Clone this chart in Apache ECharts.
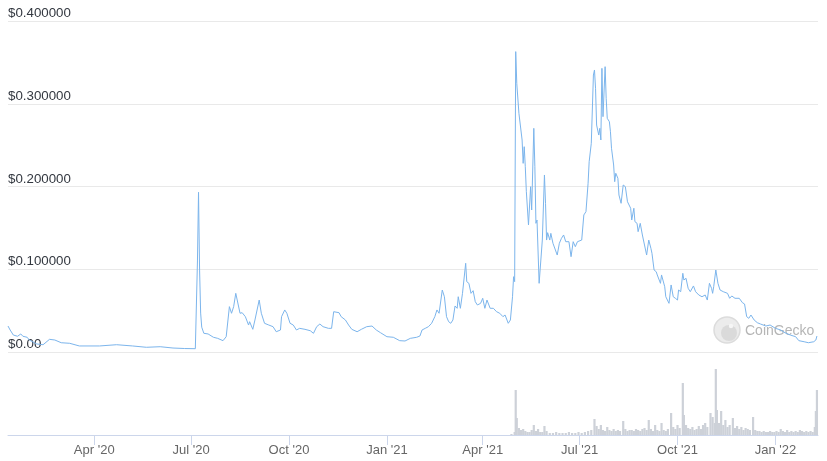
<!DOCTYPE html>
<html>
<head>
<meta charset="utf-8">
<script src="https://cdn.jsdelivr.net/npm/echarts@6/dist/echarts.min.js"></script>
<style>
html,body{margin:0;padding:0;background:#fff;}
#chart{width:827px;height:461px;}
</style>
</head>
<body>
<div id="chart"></div>
<script>
const priceDates = [
'2020-01-11','2020-01-13','2020-01-16','2020-01-20','2020-01-23','2020-01-25','2020-01-29','2020-01-31','2020-02-07','2020-02-13',
'2020-02-19','2020-02-24','2020-03-01','2020-03-09','2020-03-18','2020-04-06','2020-04-22','2020-05-07','2020-05-20','2020-06-02',
'2020-06-14','2020-06-25','2020-07-05','2020-07-06','2020-07-07','2020-07-08','2020-07-09','2020-07-10','2020-07-11','2020-07-13',
'2020-07-17','2020-07-22','2020-07-26','2020-07-31','2020-08-03','2020-08-06','2020-08-08','2020-08-10','2020-08-12','2020-08-13',
'2020-08-16','2020-08-18','2020-08-21','2020-08-24','2020-08-25','2020-08-28','2020-08-30','2020-09-03','2020-09-05','2020-09-08',
'2020-09-12','2020-09-16','2020-09-19','2020-09-23','2020-09-24','2020-09-27','2020-09-29','2020-10-02','2020-10-05','2020-10-08',
'2020-10-11','2020-10-16','2020-10-21','2020-10-24','2020-10-27','2020-10-30','2020-11-02','2020-11-07','2020-11-10','2020-11-12',
'2020-11-13','2020-11-17','2020-11-19','2020-11-23','2020-11-26','2020-11-29','2020-12-04','2020-12-08','2020-12-13','2020-12-18',
'2020-12-22','2020-12-26','2021-01-01','2021-01-07','2021-01-13','2021-01-18','2021-01-23','2021-01-29','2021-02-01','2021-02-03',
'2021-02-06','2021-02-09','2021-02-12','2021-02-15','2021-02-17','2021-02-19','2021-02-22','2021-02-24','2021-02-26','2021-02-28',
'2021-03-02','2021-03-04','2021-03-06','2021-03-08','2021-03-09','2021-03-11','2021-03-13','2021-03-16','2021-03-17','2021-03-19',
'2021-03-21','2021-03-23','2021-03-25','2021-03-27','2021-03-30','2021-04-01','2021-04-03','2021-04-05','2021-04-08','2021-04-11',
'2021-04-14','2021-04-17','2021-04-20','2021-04-22','2021-04-25','2021-04-27','2021-04-29','2021-04-30','2021-05-01','2021-05-02',
'2021-05-03','2021-05-05','2021-05-06','2021-05-08','2021-05-09','2021-05-10','2021-05-11','2021-05-12','2021-05-14','2021-05-16',
'2021-05-17','2021-05-19','2021-05-20','2021-05-21','2021-05-22','2021-05-24','2021-05-27','2021-05-29','2021-05-30','2021-05-31',
'2021-06-01','2021-06-03','2021-06-04','2021-06-06','2021-06-10','2021-06-12','2021-06-14','2021-06-16','2021-06-18','2021-06-21',
'2021-06-23','2021-06-25','2021-06-27','2021-06-29','2021-07-03','2021-07-05','2021-07-07','2021-07-09','2021-07-10','2021-07-12',
'2021-07-13','2021-07-14','2021-07-15','2021-07-16','2021-07-17','2021-07-19','2021-07-20','2021-07-21','2021-07-22','2021-07-23',
'2021-07-25','2021-07-26','2021-07-27','2021-07-29','2021-07-30','2021-07-31','2021-08-02','2021-08-03','2021-08-04','2021-08-06',
'2021-08-07','2021-08-09','2021-08-11','2021-08-13','2021-08-15','2021-08-18','2021-08-19','2021-08-21','2021-08-22','2021-08-24',
'2021-08-25','2021-08-27','2021-08-29','2021-08-30','2021-09-02','2021-09-04','2021-09-06','2021-09-07','2021-09-09','2021-09-11',
'2021-09-12','2021-09-15','2021-09-16','2021-09-19','2021-09-20','2021-09-23','2021-09-25','2021-09-27','2021-09-29','2021-10-01',
'2021-10-02','2021-10-04','2021-10-06','2021-10-07','2021-10-09','2021-10-11','2021-10-13','2021-10-16','2021-10-18','2021-10-21',
'2021-10-24','2021-10-27','2021-10-29','2021-10-31','2021-11-02','2021-11-03','2021-11-04','2021-11-06','2021-11-08','2021-11-10',
'2021-11-13','2021-11-17','2021-11-19','2021-11-21','2021-11-24','2021-11-28','2021-12-01','2021-12-03','2021-12-05','2021-12-07',
'2021-12-09','2021-12-12','2021-12-15','2021-12-18','2021-12-23','2021-12-27','2022-01-01','2022-01-06','2022-01-10','2022-01-15',
'2022-01-20','2022-01-23','2022-01-28','2022-02-01','2022-02-06','2022-02-08','2022-02-09'
];
const priceValues = [
0.0314,0.0266,0.0205,0.0190,0.0218,0.0190,0.0178,0.0145,0.0097,0.0088,
0.0153,0.0145,0.0112,0.0105,0.0073,0.0073,0.0088,0.0073,0.0057,0.0064,
0.0048,0.0042,0.0040,0.0036,0.1100,0.1930,0.0990,0.0470,0.0300,0.0226,
0.0218,0.0178,0.0165,0.0137,0.0185,0.0548,0.0468,0.0548,0.0709,0.0689,
0.0468,0.0475,0.0427,0.0326,0.0366,0.0274,0.0387,0.0628,0.0468,0.0347,
0.0326,0.0306,0.0245,0.0266,0.0427,0.0508,0.0468,0.0347,0.0326,0.0266,
0.0286,0.0274,0.0257,0.0226,0.0306,0.0338,0.0306,0.0286,0.0286,0.0487,
0.0468,0.0475,0.0427,0.0387,0.0326,0.0274,0.0245,0.0274,0.0306,0.0314,
0.0266,0.0233,0.0185,0.0178,0.0137,0.0133,0.0165,0.0178,0.0193,0.0266,
0.0286,0.0306,0.0347,0.0427,0.0508,0.0468,0.0749,0.0668,0.0427,0.0366,
0.0347,0.0387,0.0556,0.0528,0.0668,0.0528,0.0709,0.1072,0.0850,0.0830,
0.0709,0.0741,0.0608,0.0568,0.0588,0.0649,0.0528,0.0628,0.0528,0.0528,
0.0487,0.0468,0.0427,0.0447,0.0347,0.0387,0.0668,0.0910,0.0850,0.3630,
0.3247,0.2885,0.2864,0.2562,0.2280,0.2481,0.2239,0.1937,0.1535,0.1998,
0.1716,0.2703,0.2239,0.1555,0.1595,0.0830,0.1353,0.2139,0.1797,0.1353,
0.1442,0.1353,0.1434,0.1314,0.1172,0.1314,0.1374,0.1414,0.1333,0.1333,
0.1152,0.1333,0.1273,0.1333,0.1353,0.1656,0.1696,0.2039,0.2300,0.2522,
0.2542,0.3347,0.3408,0.3187,0.2743,0.2622,0.2703,0.2562,0.3428,0.2844,
0.3448,0.3066,0.2824,0.2783,0.2662,0.2462,0.2260,0.2058,0.2160,0.2099,
0.1897,0.1797,0.2018,0.1998,0.1816,0.1737,0.1595,0.1737,0.1575,0.1555,
0.1454,0.1555,0.1414,0.1393,0.1172,0.1353,0.1253,0.1193,0.0991,0.0970,
0.0931,0.0830,0.0931,0.0789,0.0668,0.0588,0.0810,0.0668,0.0649,0.0628,
0.0749,0.0729,0.0951,0.0870,0.0891,0.0770,0.0729,0.0798,0.0729,0.0689,
0.0668,0.0689,0.0628,0.0830,0.0770,0.0709,0.0789,0.0991,0.0830,0.0749,
0.0729,0.0709,0.0649,0.0677,0.0649,0.0649,0.0596,0.0580,0.0427,0.0407,
0.0447,0.0387,0.0354,0.0338,0.0314,0.0326,0.0286,0.0266,0.0233,0.0205,
0.0185,0.0137,0.0124,0.0112,0.0124,0.0145,0.0193
];
const volumeDates = [
'2021-04-28','2021-05-01','2021-05-02','2021-05-03','2021-05-05','2021-05-07','2021-05-09','2021-05-11','2021-05-13','2021-05-15',
'2021-05-17','2021-05-19','2021-05-21','2021-05-23','2021-05-25','2021-05-27','2021-05-29','2021-05-31','2021-06-03','2021-06-06',
'2021-06-09','2021-06-12','2021-06-15','2021-06-18','2021-06-21','2021-06-24','2021-06-27','2021-06-30','2021-07-03','2021-07-06',
'2021-07-09','2021-07-12','2021-07-15','2021-07-17','2021-07-19','2021-07-21','2021-07-23','2021-07-25','2021-07-27','2021-07-29',
'2021-07-31','2021-08-02','2021-08-04','2021-08-06','2021-08-08','2021-08-11','2021-08-13','2021-08-15','2021-08-17','2021-08-19',
'2021-08-21','2021-08-23','2021-08-25','2021-08-27','2021-08-29','2021-08-31','2021-09-02','2021-09-04','2021-09-06','2021-09-08',
'2021-09-10','2021-09-12','2021-09-14','2021-09-16','2021-09-18','2021-09-20','2021-09-22','2021-09-25','2021-09-27','2021-09-29',
'2021-10-01','2021-10-03','2021-10-06','2021-10-07','2021-10-09','2021-10-11','2021-10-13','2021-10-15','2021-10-17','2021-10-19',
'2021-10-21','2021-10-23','2021-10-25','2021-10-27','2021-10-29','2021-11-01','2021-11-03','2021-11-05','2021-11-06','2021-11-07',
'2021-11-09','2021-11-11','2021-11-13','2021-11-15','2021-11-17','2021-11-19','2021-11-22','2021-11-24','2021-11-26','2021-11-28',
'2021-11-30','2021-12-02','2021-12-04','2021-12-06','2021-12-08','2021-12-11','2021-12-13','2021-12-15','2021-12-17','2021-12-19',
'2021-12-21','2021-12-23','2021-12-25','2021-12-27','2021-12-29','2021-12-31','2022-01-02','2022-01-04','2022-01-06','2022-01-08',
'2022-01-10','2022-01-12','2022-01-14','2022-01-16','2022-01-18','2022-01-20','2022-01-22','2022-01-24','2022-01-26','2022-01-28',
'2022-01-30','2022-02-01','2022-02-03','2022-02-05','2022-02-07','2022-02-08','2022-02-09'
];
const volumeValues = [
1,3,45,17,7,5,6,4,3,3,
5,10,4,6,3,3,9,4,2,2,
3,2,2,2,3,2,2,3,2,3,
4,5,16,9,6,10,5,4,8,5,
4,6,4,5,4,14,6,4,5,5,
4,6,5,4,6,7,5,15,6,4,
10,5,4,12,5,4,6,22,8,6,
10,7,52,20,10,7,6,8,5,6,
9,6,10,12,8,22,18,12,66,25,
12,24,10,15,8,10,17,7,9,6,
8,5,7,6,5,18,5,4,4,3,
4,3,3,4,3,3,4,3,6,4,
3,5,3,4,3,4,3,5,4,3,
4,3,4,3,8,24,45
];
const yTicks = [0, 0.1, 0.2, 0.3, 0.4];
const tickDates = ['2020-04-01','2020-07-01','2020-10-01','2021-01-01','2021-04-01','2021-07-01','2021-10-01','2022-01-01'];
const tickLabels = ["Apr '20","Jul '20","Oct '20","Jan '21","Apr '21","Jul '21","Oct '21","Jan '22"];
const axisStart = '2020-01-11';
const axisEnd = '2022-02-10';

function ts(s){ const p = s.split('-'); return Date.UTC(+p[0], +p[1]-1, +p[2]); }
const tickTs = tickDates.map(ts);
const labelMap = {};
tickTs.forEach((t,i)=>{ labelMap[t] = tickLabels[i]; });

const priceData = priceDates.map((d,i)=>[ts(d), priceValues[i]]);
const volumeData = volumeDates.map((d,i)=>[ts(d), volumeValues[i]]);

const FONT = '"Liberation Sans", Arial, Helvetica, sans-serif';
const chart = echarts.init(document.getElementById('chart'), null, {renderer:'canvas'});
chart.setOption({
  animation: false,
  backgroundColor: '#fff',
  grid: [
    {left: 8, right: 9, top: 21, height: 331, containLabel: false},
    {left: 8, right: 9, top: 365, height: 70, containLabel: false}
  ],
  xAxis: [
    {type:'value', gridIndex:0, min: ts(axisStart), max: ts(axisEnd), scale:true,
     axisLine:{show:false}, axisTick:{show:false}, axisLabel:{show:false}, splitLine:{show:false}},
    {type:'value', gridIndex:1, min: ts(axisStart), max: ts(axisEnd), scale:true,
     axisLine:{show:true, onZero:false, lineStyle:{color:'#ccd6eb', width:1}},
     axisTick:{show:true, customValues: tickTs, length:10, lineStyle:{color:'#ccd6eb'}},
     axisLabel:{show:true, customValues: tickTs, margin:9, color:'#666666', fontSize:13, fontFamily: FONT,
       showMinLabel:true, showMaxLabel:true,
       formatter: v => labelMap[v] || ''},
     splitLine:{show:false}}
  ],
  yAxis: [
    {type:'value', gridIndex:0, min: yTicks[0], max: yTicks[yTicks.length-1], interval: 0.1,
     axisLine:{show:false}, axisTick:{show:false},
     splitLine:{show:true, lineStyle:{color:'#e9e9e9', width:1}},
     axisLabel:{show:true, inside:true, margin:0, verticalAlign:'bottom', align:'left', padding:[0,0,1,0],
       color:'#333840', fontSize:13.3, fontFamily: FONT,
       formatter: v => v === 0 ? '$0.00' : '$' + v.toFixed(6)}},
    {type:'value', gridIndex:1, min:0, max:70, show:false, splitLine:{show:false}}
  ],
  graphic: [
    {type:'circle', shape:{cx:727, cy:330, r:13}, style:{fill:'#ececec', stroke:'#dcdcdc', lineWidth:1.5}, z:1},
    {type:'circle', shape:{cx:729, cy:333, r:8}, style:{fill:'#dadada'}, z:1},
    {type:'circle', shape:{cx:731, cy:326, r:2.2}, style:{fill:'#f6f6f6'}, z:1},
    {type:'text', style:{x:745, y:331, text:'CoinGecko', fill:'#b5b5b5', font:'14px "Liberation Sans", Arial, sans-serif', textVerticalAlign:'middle'}, z:1}
  ],
  series: [
    {type:'line', xAxisIndex:0, yAxisIndex:0, data: priceData, showSymbol:false, symbol:'none',
     lineStyle:{color:'#7cb5ec', width:1}, z:5},
    {type:'bar', xAxisIndex:1, yAxisIndex:1, data: volumeData, barWidth:2.2,
     itemStyle:{color:'#cdd1d8'}, z:3}
  ]
});
</script>
</body>
</html>
